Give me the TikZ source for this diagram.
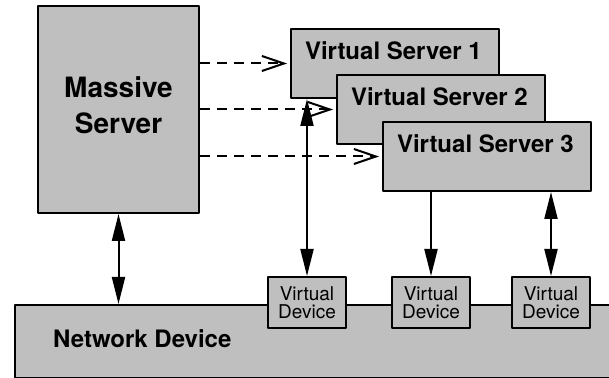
\documentclass[tikz,border=0pt]{standalone}
\usepackage{fontspec}
\setmainfont{TeX Gyre Heros}
\usetikzlibrary{arrows.meta}

\tikzset{
  fat/.tip={Triangle[length=13.5pt,width=6.5pt]},
  barb/.tip={Straight Barb[length=11pt,width=7.5pt]},
  box/.style={draw, fill=black!25, inner sep=0pt, anchor=north west},
  vsbox/.style={box, minimum width=104pt, minimum height=34.5pt},
  vdbox/.style={box, minimum width=39pt, minimum height=25.5pt, align=center,
    font=\fontsize{9.5}{9}\selectfont},
  vslabel/.style={anchor=base west, inner sep=0pt, font=\bfseries\fontsize{12}{14}\selectfont},
  dasharrow/.style={-barb, dash pattern=on 5pt off 3.5pt, line cap=butt, shorten >=1.5pt}
}

\begin{document}
\begin{tikzpicture}[x=0.5pt, y=-0.5pt, line join=round, line width=1pt]
  \useasboundingbox (0,0) rectangle (609,378);

  % network device along the bottom
  \node[box, minimum width=303pt, minimum height=36.5pt] (nd) at (14,304) {};
  \node[vslabel] (ndl) at (52,348) {Network Device};

  % the big server
  \node[box, minimum width=80.5pt, minimum height=103.5pt] (ms) at (37,5) {};
  \node[align=center, inner sep=0pt, font=\bfseries\fontsize{14}{18}\selectfont]
    (msl) at ([yshift=2pt]ms.center) {Massive\\Server};

  % stacked virtual servers
  \foreach \i/\x/\y in {1/290/28, 2/336/74, 3/382/121} {
    \node[vsbox] (vs\i) at (\x,\y) {};
    \node[vslabel] (vsl\i) at ([shift={(14,32)}]vs\i.north west) {Virtual Server \i};
  }

  % virtual devices sitting on the network device
  \foreach \i/\x in {1/267, 2/391, 3/511}
    \node[vdbox] (vd\i) at (\x,276) {Virtual\\Device};

  \foreach \i in {1,2,3}
    \draw[dasharrow] (ms.east |- vs\i.west) -- (vs\i.west);

  \draw[fat-fat] (ms.south) -- (ms.south |- nd.north);
  \draw[fat-fat] (vd1.north |- vs1.south) -- (vd1.north);
  \draw[-fat] (vd2.north |- vs3.south) -- (vd2.north);
  \draw[fat-fat] (vd3.north |- vs3.south) -- (vd3.north);
\end{tikzpicture}
\end{document}
